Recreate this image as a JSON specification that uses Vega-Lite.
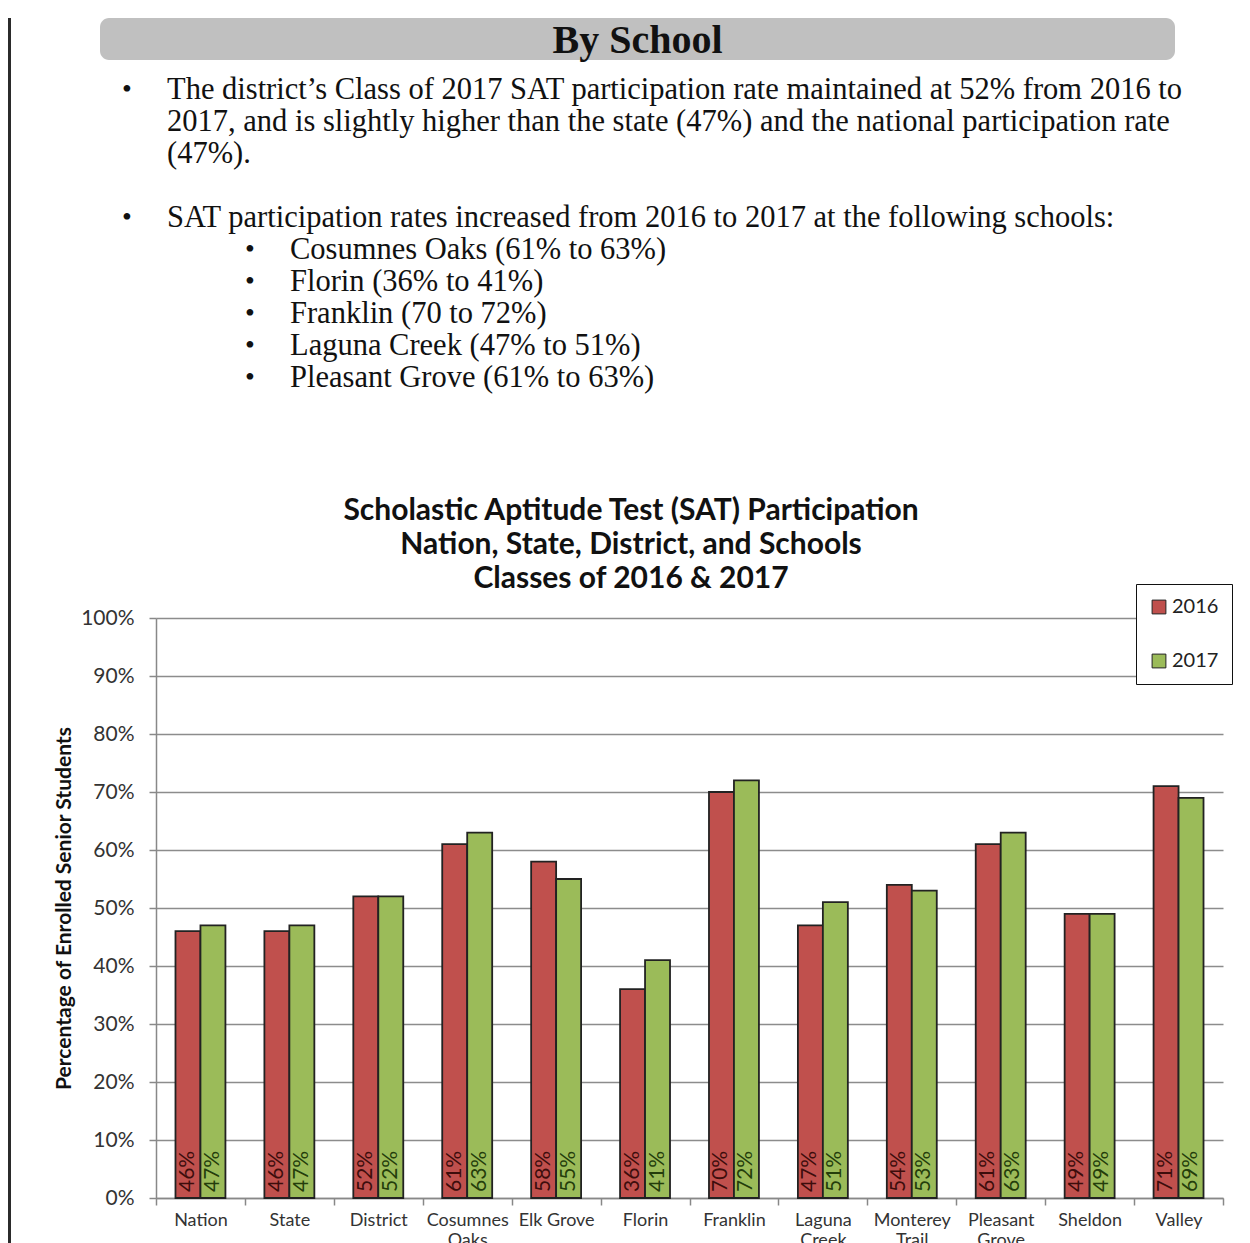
{
  "$schema": "https://vega.github.io/schema/vega-lite/v6.json",
  "background": "white",
  "padding": {"left": 8, "top": 18, "right": 0, "bottom": 0},
  "config": {"view": {"stroke": null}, "font": "Lato"},
  "spacing": 41,
  "resolve": {"legend": {"color": "independent", "fill": "independent"}},
  "hconcat": [
    {
      "data": {"values": []},
      "mark": "point",
      "width": 3,
      "height": 1240,
      "view": {"fill": "#2b2b2b", "stroke": null}
    },
    {
      "spacing": 0,
      "resolve": {"legend": {"color": "independent", "fill": "independent"}},
      "vconcat": [
        {
          "spacing": 0,
          "hconcat": [
            {
              "data": {"values": []},
              "mark": "point",
              "width": 48,
              "height": 42
            },
            {
              "data": {"values": [{"t": "By School"}]},
              "width": 1075,
              "height": 42,
              "view": {"fill": "#c0c0c0", "cornerRadius": 9, "stroke": null},
              "mark": {"type": "text", "font": "Liberation Serif", "fontWeight": "bold", "fontSize": 40, "baseline": "middle", "align": "center", "color": "#111", "dy": 2},
              "encoding": {"text": {"field": "t"}}
            }
          ]
        },
        {
          "width": 1150,
          "height": 434,
          "data": {
            "values": [
              {"line": 0, "level": 1, "first": true, "text": "The district’s Class of 2017 SAT participation rate maintained at 52% from 2016 to"},
              {"line": 1, "level": 1, "first": false, "text": "2017, and is slightly higher than the state (47%) and the national participation rate"},
              {"line": 2, "level": 1, "first": false, "text": "(47%)."},
              {"line": 4, "level": 1, "first": true, "text": "SAT participation rates increased from 2016 to 2017 at the following schools:"},
              {"line": 5, "level": 2, "first": true, "text": "Cosumnes Oaks (61% to 63%)"},
              {"line": 6, "level": 2, "first": true, "text": "Florin (36% to 41%)"},
              {"line": 7, "level": 2, "first": true, "text": "Franklin (70 to 72%)"},
              {"line": 8, "level": 2, "first": true, "text": "Laguna Creek (47% to 51%)"},
              {"line": 9, "level": 2, "first": true, "text": "Pleasant Grove (61% to 63%)"}
            ]
          },
          "encoding": {
            "x": {"field": "level", "type": "quantitative", "scale": {"domain": [1, 2], "range": [115, 238]}, "axis": null},
            "y": {"field": "line", "type": "quantitative", "scale": {"domain": [0, 9], "range": [29, 317]}, "axis": null}
          },
          "layer": [
            {
              "mark": {"type": "text", "font": "Liberation Serif", "fontSize": 30.5, "align": "left", "baseline": "middle", "color": "#111"},
              "encoding": {"text": {"field": "text"}}
            },
            {
              "transform": [{"filter": "datum.first"}],
              "mark": {"type": "text", "font": "Liberation Serif", "fontSize": 28, "align": "left", "baseline": "middle", "color": "#111", "dx": -45},
              "encoding": {"text": {"value": "•"}}
            }
          ]
        },
        {
          "spacing": 0,
          "resolve": {"legend": {"color": "independent", "fill": "independent"}},
          "hconcat": [
            {
              "data": {"values": []},
              "mark": "point",
              "width": 1,
              "height": 580
            },
            {
              "width": 1067,
              "height": 580,
              "title": {
                "text": ["Scholastic Aptitude Test (SAT) Participation", "Nation, State, District, and Schools", "Classes of 2016 & 2017"],
                "font": "Lato",
                "fontSize": 30,
                "fontWeight": "bold",
                "lineHeight": 34,
                "color": "#111",
                "anchor": "middle",
                "frame": "bounds",
                "dx": -12,
                "offset": -10
              },
              "data": {
                "values": [
                  {"school": "Nation", "year": "2016", "value": 0.46},
                  {"school": "Nation", "year": "2017", "value": 0.47},
                  {"school": "State", "year": "2016", "value": 0.46},
                  {"school": "State", "year": "2017", "value": 0.47},
                  {"school": "District", "year": "2016", "value": 0.52},
                  {"school": "District", "year": "2017", "value": 0.52},
                  {"school": "Cosumnes Oaks", "year": "2016", "value": 0.61},
                  {"school": "Cosumnes Oaks", "year": "2017", "value": 0.63},
                  {"school": "Elk Grove", "year": "2016", "value": 0.58},
                  {"school": "Elk Grove", "year": "2017", "value": 0.55},
                  {"school": "Florin", "year": "2016", "value": 0.36},
                  {"school": "Florin", "year": "2017", "value": 0.41},
                  {"school": "Franklin", "year": "2016", "value": 0.70},
                  {"school": "Franklin", "year": "2017", "value": 0.72},
                  {"school": "Laguna Creek", "year": "2016", "value": 0.47},
                  {"school": "Laguna Creek", "year": "2017", "value": 0.51},
                  {"school": "Monterey Trail", "year": "2016", "value": 0.54},
                  {"school": "Monterey Trail", "year": "2017", "value": 0.53},
                  {"school": "Pleasant Grove", "year": "2016", "value": 0.61},
                  {"school": "Pleasant Grove", "year": "2017", "value": 0.63},
                  {"school": "Sheldon", "year": "2016", "value": 0.49},
                  {"school": "Sheldon", "year": "2017", "value": 0.49},
                  {"school": "Valley", "year": "2016", "value": 0.71},
                  {"school": "Valley", "year": "2017", "value": 0.69}
                ]
              },
              "encoding": {
                "x": {
                  "field": "school",
                  "type": "nominal",
                  "sort": null,
                  "scale": {"paddingInner": 0, "paddingOuter": 0},
                  "axis": {
                    "title": null,
                    "labelAngle": 0,
                    "labelFont": "Lato",
                    "labelFontSize": 18,
                    "labelColor": "#333",
                    "labelPadding": 6,
                    "labelExpr": "datum.label == 'Elk Grove' ? datum.label : split(datum.label, ' ')",
                    "labelLineHeight": 20,
                    "tickBand": "extent",
                    "tickSize": 7,
                    "tickColor": "#888",
                    "tickWidth": 1.5,
                    "domainColor": "#888",
                    "domainWidth": 1.5,
                    "grid": false
                  }
                },
                "xOffset": {"field": "year", "type": "nominal", "scale": {"paddingInner": 0, "paddingOuter": 0.78}},
                "y": {
                  "field": "value",
                  "type": "quantitative",
                  "scale": {"domain": [0, 1]},
                  "axis": {
                    "title": "Percentage of Enrolled Senior Students",
                    "titleFont": "Lato",
                    "titleFontSize": 21,
                    "titleFontWeight": "bold",
                    "titleColor": "#111",
                    "titlePadding": 6,
                    "values": [0, 0.1, 0.2, 0.3, 0.4, 0.5, 0.6, 0.7, 0.8, 0.9, 1],
                    "format": ".0%",
                    "labelFont": "Lato",
                    "labelFontSize": 21,
                    "labelColor": "#333",
                    "labelPadding": 15,
                    "tickSize": 7,
                    "tickColor": "#888",
                    "tickWidth": 1.5,
                    "domainColor": "#888",
                    "domainWidth": 1.5,
                    "gridColor": "#8c8c8c",
                    "gridWidth": 1.5
                  }
                }
              },
              "layer": [
                {
                  "mark": {"type": "bar", "stroke": "#222", "strokeWidth": 1.8},
                  "encoding": {
                    "color": {
                      "field": "year",
                      "type": "nominal",
                      "scale": {"domain": ["2016", "2017"], "range": ["#c0504d", "#9bbb59"]},
                      "legend": {
                        "title": null,
                        "orient": "none",
                        "legendX": 980,
                        "legendY": -34,
                        "strokeColor": "#111",
                        "fillColor": "white",
                        "padding": 13,
                        "symbolType": "square",
                        "symbolSize": 190,
                        "symbolStrokeColor": "#222",
                        "symbolStrokeWidth": 1,
                        "labelFont": "Lato",
                        "labelFontSize": 20,
                        "labelOffset": 3,
                        "labelColor": "#222",
                        "rowPadding": 34
                      }
                    }
                  }
                },
                {
                  "mark": {"type": "text", "angle": 270, "align": "left", "baseline": "middle", "dx": 6, "font": "Lato", "fontSize": 21},
                  "encoding": {
                    "y": {"datum": 0},
                    "text": {"field": "value", "type": "quantitative", "format": ".0%"},
                    "fill": {
                      "field": "year",
                      "type": "nominal",
                      "scale": {"domain": ["2016", "2017"], "range": ["#3d0d0c", "#243d0b"]},
                      "legend": null
                    }
                  }
                }
              ]
            }
          ]
        }
      ]
    }
  ]
}
